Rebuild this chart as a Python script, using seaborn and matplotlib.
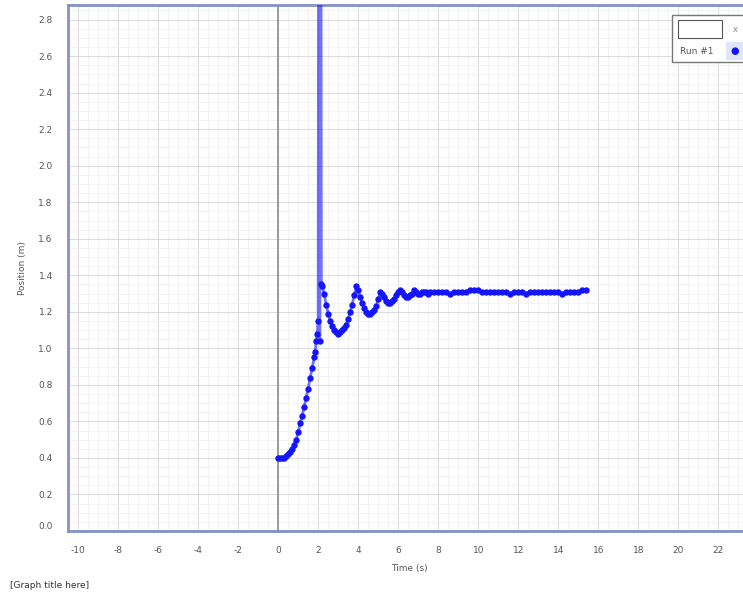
#!/usr/bin/env python3
"""Position vs time sensor run, drawn as a logger-style graph."""

import matplotlib
matplotlib.use("Agg")
import matplotlib.pyplot as plt
import numpy as np
import pandas as pd
import seaborn as sns
from matplotlib.patches import Rectangle
from matplotlib.ticker import MultipleLocator

# Run #1 samples (time in s, position in m)
time_s = [
    0.0, 0.1, 0.2, 0.3, 0.4, 0.5, 0.6, 0.7, 0.8, 0.9,
    1.0, 1.1, 1.2, 1.3, 1.4, 1.5, 1.6, 1.7, 1.8, 1.85,
    1.9, 1.95, 2.0, 2.04, 2.08, 2.12, 2.16, 2.2, 2.3, 2.4, 2.5, 2.6,
    2.7, 2.8, 2.9, 3.0, 3.1, 3.2, 3.3, 3.4, 3.5, 3.6,
    3.7, 3.8, 3.9, 4.0, 4.1, 4.2, 4.3, 4.4, 4.5, 4.6,
    4.7, 4.8, 4.9, 5.0, 5.1, 5.2, 5.3, 5.4, 5.5, 5.6,
    5.7, 5.8, 5.9, 6.0, 6.1, 6.2, 6.3, 6.4, 6.5, 6.6,
    6.7, 6.8, 6.9, 7.0, 7.1, 7.2, 7.3, 7.4, 7.5, 7.6,
    7.8, 8.0, 8.2, 8.4, 8.6, 8.8, 9.0, 9.2, 9.4, 9.6,
    9.8, 10.0, 10.2, 10.4, 10.6, 10.8, 11.0, 11.2, 11.4, 11.6,
    11.8, 12.0, 12.2, 12.4, 12.6, 12.8, 13.0, 13.2, 13.4, 13.6,
    13.8, 14.0, 14.2, 14.4, 14.6, 14.8, 15.0, 15.2, 15.4,
]
position_m = [
    0.40, 0.40, 0.40, 0.40, 0.41, 0.42, 0.43, 0.45, 0.47, 0.50,
    0.54, 0.59, 0.63, 0.68, 0.73, 0.78, 0.84, 0.89, 0.95, 0.98,
    1.04, 1.08, 1.15, 5.50, 1.04, 5.50, 1.35, 1.34, 1.30, 1.24, 1.19, 1.15,
    1.12, 1.10, 1.09, 1.08, 1.09, 1.10, 1.11, 1.13, 1.16, 1.20,
    1.24, 1.29, 1.34, 1.32, 1.28, 1.25, 1.22, 1.20, 1.19, 1.19,
    1.20, 1.21, 1.23, 1.27, 1.31, 1.30, 1.28, 1.26, 1.25, 1.25,
    1.26, 1.27, 1.29, 1.31, 1.32, 1.31, 1.29, 1.28, 1.28, 1.29,
    1.30, 1.32, 1.31, 1.30, 1.30, 1.31, 1.31, 1.31, 1.30, 1.31,
    1.31, 1.31, 1.31, 1.31, 1.30, 1.31, 1.31, 1.31, 1.31, 1.32,
    1.32, 1.32, 1.31, 1.31, 1.31, 1.31, 1.31, 1.31, 1.31, 1.30,
    1.31, 1.31, 1.31, 1.30, 1.31, 1.31, 1.31, 1.31, 1.31, 1.31,
    1.31, 1.31, 1.30, 1.31, 1.31, 1.31, 1.31, 1.32, 1.32,
]

x_ticks = list(range(-10, 23, 2))
y_ticks = [0.0, 0.2, 0.4, 0.6, 0.8, 1.0, 1.2, 1.4, 1.6, 1.8, 2.0, 2.2, 2.4, 2.6, 2.8]

FRAME = "#8391c8"
TEXT = "#555555"
BLUE = "#1414ff"

df = pd.DataFrame({"Time (s)": time_s, "Position (m)": position_m})

sns.set_theme(style="white")
plt.rcParams["font.family"] = ["DejaVu Sans"]

fig = plt.figure(figsize=(7.43, 5.98), dpi=100)
ax = fig.add_axes([68 / 743, 67 / 598, 1 - 68 / 743 + 0.01, 526 / 598])

ax.xaxis.set_major_locator(MultipleLocator(2))
ax.xaxis.set_minor_locator(MultipleLocator(0.5))
ax.yaxis.set_major_locator(MultipleLocator(0.2))
ax.yaxis.set_minor_locator(MultipleLocator(0.05))
ax.grid(which="major", color="#dcdcdc", lw=0.8)
ax.grid(which="minor", color="#f1f1f1", lw=0.6)
ax.set_axisbelow(True)

ax.axvline(0, color="#999999", lw=1.4, zorder=1)

sns.lineplot(
    data=df, x="Time (s)", y="Position (m)", ax=ax,
    color=BLUE, lw=2.0, marker="o", markersize=4.6,
    markeredgewidth=0, estimator=None, sort=False, zorder=3,
)
# lighter connecting line, solid sample dots
run = ax.lines[-1]
run.set_color((0.08, 0.08, 1.0, 0.6))
run.set_markerfacecolor(BLUE)

ax.set_xlim(-10.5, 23.6)
ax.set_ylim(0.0, 2.88)
ax.set_xticks(x_ticks)
ax.set_xticklabels([str(v) for v in x_ticks])
ax.set_yticks(y_ticks)
ax.set_yticklabels([f"{v:.1f}" for v in y_ticks])
ax.tick_params(axis="both", which="major", labelsize=6.5, labelcolor=TEXT,
               length=3, color="#cccccc", pad=8)
ax.tick_params(axis="both", which="minor", length=0)
ax.get_yticklabels()[0].set_verticalalignment("bottom")

ax.set_xlabel("Time (s)", fontsize=6.5, color=TEXT, labelpad=6)
ax.set_ylabel("Position (m)", fontsize=6.5, color=TEXT, labelpad=8)

for side in ("left", "bottom", "top"):
    ax.spines[side].set_color(FRAME)
    ax.spines[side].set_linewidth(2)
ax.spines["right"].set_visible(False)

# legend panel in the top-right corner
fig.patches.append(Rectangle((672 / 743, 1 - 62 / 598), 80 / 743, 47 / 598,
                             transform=fig.transFigure, facecolor="white",
                             edgecolor="#777777", lw=1.0, zorder=5))
fig.patches.append(Rectangle((678 / 743, 1 - 38 / 598), 44 / 743, 18 / 598,
                             transform=fig.transFigure, facecolor="white",
                             edgecolor="#555555", lw=0.8, zorder=6))
fig.patches.append(Rectangle((726 / 743, 1 - 60 / 598), 20 / 743, 18 / 598,
                             transform=fig.transFigure, facecolor="#dfe6fb",
                             edgecolor="none", zorder=6))
fig.text(735 / 743, 1 - 30 / 598, "x", fontsize=6, color="#888888",
         ha="center", va="center", zorder=7)
fig.text(680 / 743, 1 - 51 / 598, "Run #1", fontsize=6.5, color=TEXT,
         ha="left", va="center", zorder=7)
fig.text(735 / 743, 1 - 51 / 598, "\u25cf", fontsize=7, color=BLUE,
         ha="center", va="center", zorder=7)

fig.text(10 / 743, 1 - 585 / 598, "[Graph title here]", fontsize=6.5,
         color="#333333", ha="left", va="center")

fig.savefig("out.png", dpi=100)
